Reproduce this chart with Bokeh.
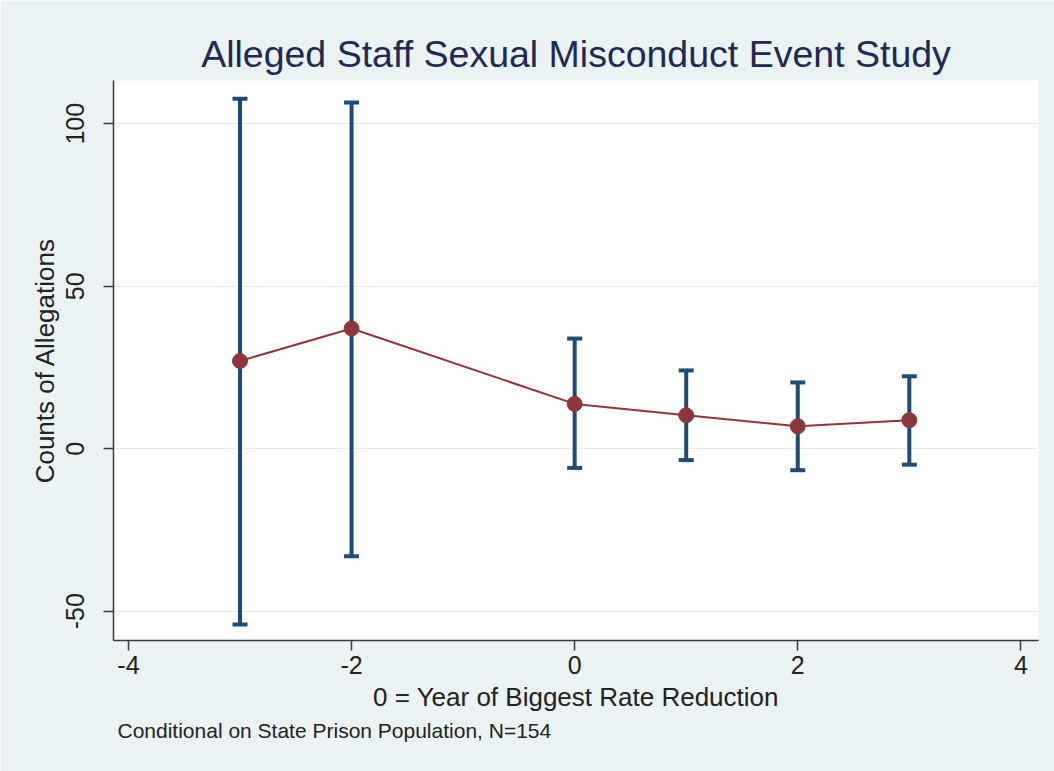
from bokeh.plotting import figure
from bokeh.models import Range1d, FixedTicker, Title, CustomJSTickFormatter
from bokeh.embed import file_html
from bokeh.resources import INLINE

# ---- data ----
event_time = [-3, -2, 0, 1, 2, 3]
estimate = [27.0, 37.0, 13.8, 10.3, 6.9, 8.8]
ci_upper = [107.7, 106.5, 33.9, 24.1, 20.4, 22.3]
ci_lower = [-54.1, -33.1, -5.9, -3.5, -6.6, -4.9]
x_ticks = [-4, -2, 0, 2, 4]
y_ticks = [-50, 0, 50, 100]

title_text = "Alleged Staff Sexual Misconduct Event Study"
x_label = "0 = Year of Biggest Rate Reduction"
y_label = "Counts of Allegations"
note_text = "Conditional on State Prison Population, N=154"

BG = "#EAF2F3"
NAVY = "#1F4C76"
MAROON = "#90353B"
FONT = "Liberation Sans"

p = figure(width=1054, height=771, output_backend="svg", toolbar_location=None,
           x_range=Range1d(-4.134, 4.158), y_range=Range1d(-59.0, 113.3),
           min_border_left=113, min_border_right=16, min_border_top=80,
           min_border_bottom=131)

p.background_fill_color = "white"
p.border_fill_color = BG
p.outline_line_color = None

# title
p.title.text = title_text
p.title.align = "center"
p.title.text_font = FONT
p.title.text_font_size = "37.5px"
p.title.text_font_style = "normal"
p.title.text_color = "#1E2A55"
p.title.standoff = 12

# axes
fmt = CustomJSTickFormatter(code="return tick.toFixed(0);")
for ax in (p.xaxis[0], p.yaxis[0]):
    ax.axis_line_color = "#3a3a3a"
    ax.axis_line_width = 1.5
    ax.major_tick_line_color = "#3a3a3a"
    ax.major_tick_line_width = 1.5
    ax.major_tick_out = 10
    ax.major_tick_in = 0
    ax.minor_tick_line_color = None
    ax.major_label_text_font = FONT
    ax.major_label_text_font_size = "25px"
    ax.major_label_text_color = "#222222"
    ax.axis_label_text_font = FONT
    ax.axis_label_text_font_size = "26px"
    ax.axis_label_text_font_style = "normal"
    ax.axis_label_text_color = "#222222"
    ax.formatter = fmt

p.xaxis.ticker = FixedTicker(ticks=x_ticks)
p.yaxis.ticker = FixedTicker(ticks=y_ticks)
p.xaxis.axis_label = x_label
p.yaxis.axis_label = y_label
p.yaxis.major_label_orientation = "vertical"
p.xaxis.major_label_standoff = 5
p.xaxis.axis_label_standoff = 5
p.yaxis.major_label_standoff = 19
p.yaxis.axis_label_standoff = 4

p.xgrid.grid_line_color = None
p.ygrid.grid_line_color = "#E3EDEF"
p.ygrid.grid_line_width = 1.2

# error bars
p.segment(x0=event_time, y0=ci_lower, x1=event_time, y1=ci_upper,
          line_color=NAVY, line_width=4)
p.scatter(x=event_time, y=ci_upper, marker="dash", size=15,
          line_color=NAVY, line_width=4)
p.scatter(x=event_time, y=ci_lower, marker="dash", size=15,
          line_color=NAVY, line_width=4)

# connected estimates
p.line(x=event_time, y=estimate, line_color=MAROON, line_width=2)
p.scatter(x=event_time, y=estimate, marker="circle", size=15,
          fill_color=MAROON, line_color=MAROON)

# note
note = Title(text=note_text, align="left", text_font=FONT,
             text_font_size="21px", text_font_style="normal",
             text_color="#222222", offset=4, standoff=4)
p.add_layout(note, "below")

open("out.html", "w").write(file_html(p, INLINE))
